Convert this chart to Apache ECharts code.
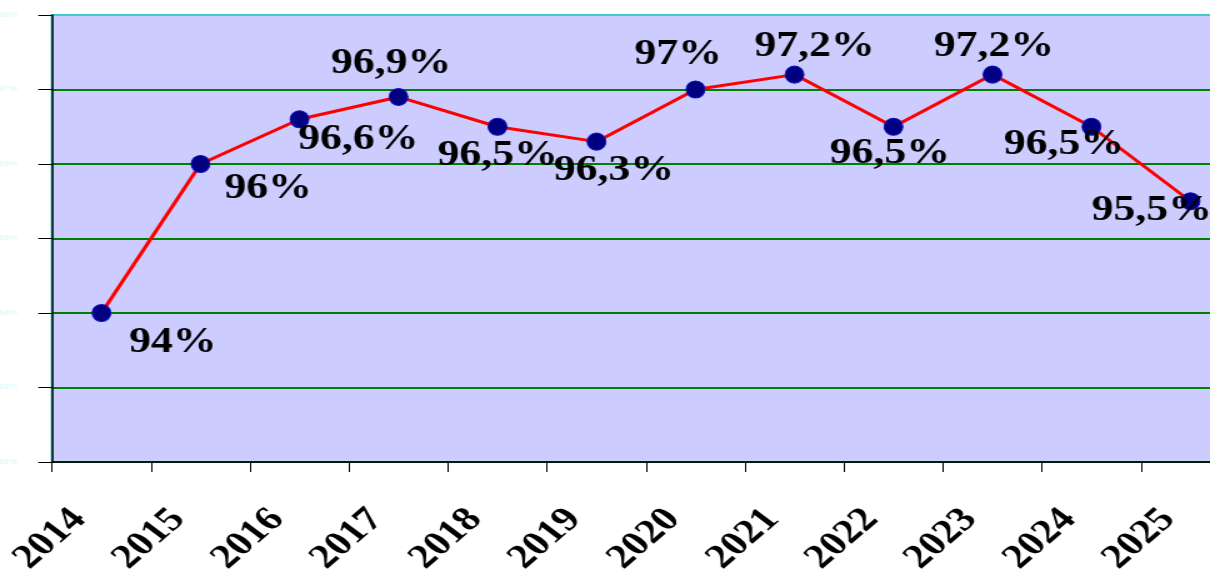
<!DOCTYPE html>
<html>
<head>
<meta charset="utf-8">
<script src="https://cdn.jsdelivr.net/npm/echarts@6/dist/echarts.min.js"></script>
<style>
html,body{margin:0;padding:0;background:#fff;overflow:hidden;width:1210px;height:577px;}
#c{width:1000px;height:577px;transform:scaleX(1.25);transform-origin:0 0;}
</style>
</head>
<body>
<div id="c"></div>
<script>
var years = ['2014','2015','2016','2017','2018','2019','2020','2021','2022','2023','2024','2025'];
var values = [94, 96, 96.6, 96.9, 96.5, 96.3, 97, 97.2, 96.5, 97.2, 96.5, 95.5];
var yTicks = [92, 93, 94, 95, 96, 97, 98];

// label placement relative to each point (layout, not data)
var labelOffsets = [[57,30],[54,25],[47,21],[-6,-33],[0,29],[14,29],[-14,-35],[16,-28],[-3,27],[1,-28],[-22,18],[-31,10]];

function fmt(v){ return String(v).replace('.', ',') + '%'; }

var chart = echarts.init(document.getElementById('c'), null, {renderer:'canvas'});
var seriesData = values.map(function(v, i){
  return { value: v, label: { offset: labelOffsets[i] } };
});
var gridCol = '#008000';
var topCol = '#40cccc';
chart.setOption({
  animation: false,
  backgroundColor: '#ffffff',
  grid: {
    left: 41.6, top: 15, bottom: 115, width: 950.4,
    outerBoundsMode: 'none',
    show: true, backgroundColor: '#ccccff', borderColor: topCol, borderWidth: 2
  },
  xAxis: {
    type: 'category',
    data: years,
    boundaryGap: true,
    axisLine: { lineStyle: { color: '#000', width: 1.5 } },
    axisTick: { show: true, length: 10, lineStyle: { color: '#000', width: 1 } },
    axisLabel: {
      rotate: 47, margin: 33, padding: [0, 26, 0, 0],
      fontFamily: 'Liberation Serif', fontWeight: 'bold', fontSize: 34, color: '#000'
    },
    splitLine: { show: false }
  },
  yAxis: {
    type: 'value',
    min: yTicks[0], max: yTicks[yTicks.length - 1], interval: 1,
    axisLine: { show: true, lineStyle: { color: '#000', width: 1.5 } },
    axisTick: { show: true, length: 11, lineStyle: { color: '#000' } },
    axisLabel: { color: '#d6f6f6', fontSize: 7, margin: 28, formatter: function(v){ return v + '%'; } },
    splitLine: { show: true, lineStyle: { color: [gridCol, gridCol, gridCol, gridCol, gridCol, gridCol, topCol], width: 2 } }
  },
  series: [{
    type: 'line',
    data: seriesData,
    symbol: 'circle',
    symbolSize: [15, 17],
    lineStyle: { color: '#ff0000', width: 3 },
    itemStyle: { color: '#000080', borderColor: '#1010c0', borderWidth: 1 },
    label: {
      show: true, position: 'inside',
      formatter: function(p){ return fmt(p.value); },
      fontFamily: 'Liberation Serif', fontWeight: 'bold', fontSize: 35, color: '#000'
    }
  }]
});
</script>
</body>
</html>
